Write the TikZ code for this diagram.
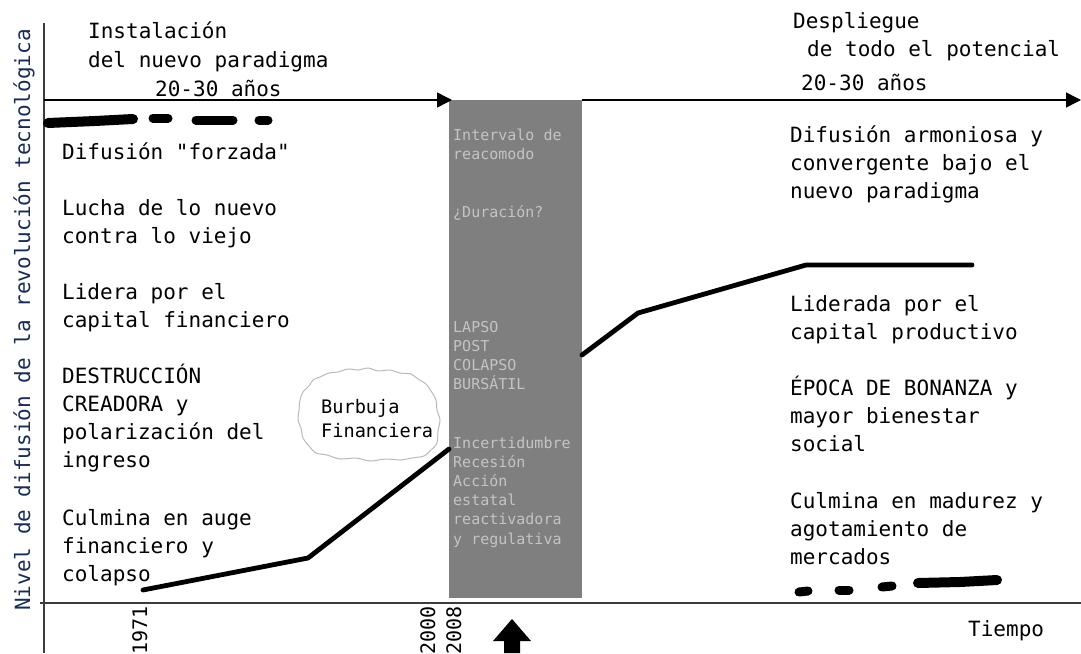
\documentclass[tikz,border=0pt]{standalone}
\usepackage{fontspec}
\newfontfamily\monof{DejaVu Sans Mono}
\usetikzlibrary{arrows.meta}
\definecolor{axisblue}{RGB}{22,44,92}
\definecolor{boxgray}{RGB}{127,127,127}
\definecolor{boxtext}{RGB}{196,196,196}
\definecolor{cloudgray}{RGB}{185,185,185}
\definecolor{axisgray}{RGB}{60,60,60}
\begin{document}
\begin{tikzpicture}[x=1pt,y=-1pt,
  txt/.style={font=\monof\fontsize{21}{25}\selectfont, anchor=base west, inner sep=0pt},
  graytxt/.style={font=\monof\fontsize{15}{18}\selectfont, text=boxtext, anchor=base west, inner sep=0pt},
  bubtxt/.style={font=\monof\fontsize{18.6}{22}\selectfont, anchor=base west, inner sep=0pt},
  yeartxt/.style={font=\monof\fontsize{20}{24}\selectfont, rotate=90, anchor=mid east, inner sep=0pt},
  axisline/.style={axisgray, line width=1.4pt},
  toparrow/.style={black, line width=1.5pt, -{Triangle[length=15pt,width=15pt]}},
  curve/.style={black, line width=4.8pt, line join=round, line cap=round},
  thickdash/.style={black, line width=9pt, line cap=round}]
\useasboundingbox (0,0) rectangle (1081,653);

% gray interval box
\fill[boxgray] (449,100) rectangle (582,598);

% axes
\draw[axisline] (44,23) -- (44,653);
\draw[axisline] (40,603) -- (1081,603);

% top arrows
\coordinate (ta0) at (44,100);
\coordinate (ta1) at (452,100);
\coordinate (tb0) at (582,100);
\coordinate (tb1) at (1081,100);
\draw[toparrow] (ta0) -- (ta1);
\draw[toparrow] (tb0) -- (tb1);

% thick dashed lines
\draw[thickdash, line width=10pt] (48,123) -- (95,121) -- (133,119);
\draw[thickdash] (153,118) -- (168,118);
\draw[thickdash] (196,120) -- (233,120);
\draw[thickdash] (259,120) -- (268,120);
\draw[thickdash] (799,592) -- (808,591);
\draw[thickdash] (839,590) -- (849,590);
\draw[thickdash] (882,587) -- (892,586);
\draw[thickdash, line width=10pt] (918,583) -- (960,582) -- (997,580);

% diffusion curves
\coordinate (c0) at (143,590);
\coordinate (c1) at (308,558);
\coordinate (c2) at (449,449);
\coordinate (d0) at (582,355);
\coordinate (d1) at (638,313);
\coordinate (d2) at (806,265);
\coordinate (d3) at (972,265);
\draw[curve] (c0) -- (c1) -- (c2);
\draw[curve] (d0) -- (d1) -- (d2) -- (d3);

% bubble (hand-drawn outline)
\draw[cloudgray, line width=1pt] plot[smooth cycle, tension=0.5] coordinates {
  (300,400) (303,392) (309,386) (313,380) (320,377) (329,373) (338,372) (348,369)
  (358,370) (368,368) (378,371) (390,370) (400,373) (411,374) (418,379) (426,384)
  (431,391) (436,400) (437,410) (440,420) (438,431) (437,443) (431,450) (424,456)
  (412,458) (400,460) (386,459) (370,461) (356,458) (340,459) (327,455) (316,453)
  (309,446) (303,438) (301,428) (298,420) (299,410)};
\node[bubtxt] (bub1) at (321,413) {Burbuja};
\node[bubtxt] (bub2) at (321,437) {Financiera};

% left texts
\node[txt] (h1) at (88,38) {Instalación};
\node[txt] (h2) at (88,67) {del nuevo paradigma};
\node[txt] (h3) at (155,96) {20-30 años};
\foreach \t/\y [count=\i] in {{Difusión "forzada"}/159, {Lucha de lo nuevo}/215, {contra lo viejo}/243,
  {Lidera por el}/299, {capital financiero}/327, {DESTRUCCIÓN}/383, {CREADORA y}/411,
  {polarización del}/439, {ingreso}/467, {Culmina en auge}/525, {financiero y}/553, {colapso}/581}
  \node[txt] (left\i) at (62,\y) {\t};

% right texts
\node[txt] (r1) at (793,28) {Despliegue};
\node[txt] (r2) at (807,56) {de todo el potencial};
\node[txt] (r3) at (801,90) {20-30 años};
\foreach \t/\y [count=\i] in {{Difusión armoniosa y}/142, {convergente bajo el}/170, {nuevo paradigma}/198,
  {Liderada por el}/311, {capital productivo}/339, {ÉPOCA DE BONANZA y}/395, {mayor bienestar}/423,
  {social}/451, {Culmina en madurez y}/508, {agotamiento de}/536, {mercados}/564}
  \node[txt] (right\i) at (790,\y) {\t};

% box texts
\foreach \t/\y [count=\i] in {{Intervalo de}/140, {reacomodo}/159, {¿Duración?}/217,
  {LAPSO}/332, {POST}/351, {COLAPSO}/370, {BURSÁTIL}/389,
  {Incertidumbre}/448, {Recesión}/467, {Acción}/486, {estatal}/505, {reactivadora}/524, {y regulativa}/544}
  \node[graytxt] (box\i) at (453,\y) {\t};

% axis labels
\node[txt, anchor=mid, rotate=90, text=axisblue] (ylab) at (28,320) {Nivel de difusión de la revolución tecnológica};
\node[txt] (xlab) at (968,636) {Tiempo};
\node[yeartxt] (y1971) at (145,606) {1971};
\node[yeartxt] (y2000) at (433,606) {2000};
\node[yeartxt] (y2008) at (459,606) {2008};

% up arrow
\fill[black] (512,619) -- (531,641) -- (520,641) -- (520,653) -- (504,653) -- (504,641) -- (493,641) -- cycle;
\end{tikzpicture}
\end{document}
